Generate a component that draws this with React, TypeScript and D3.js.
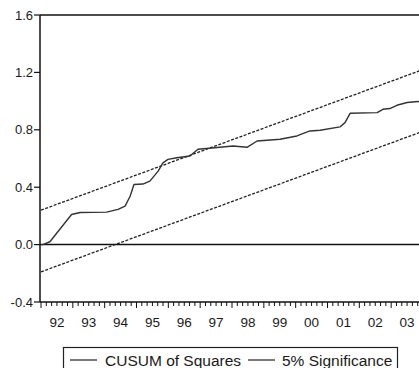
import React from "react";
import * as d3 from "d3";

// CUSUM of squares observations (decimal year, value)
const periods = [
  1992.0, 1992.06, 1992.28, 1992.96, 1993.23, 1994.06, 1994.42, 1994.64, 1994.8, 1994.92,
  1995.2, 1995.42, 1995.68, 1995.83, 1995.99, 1996.27, 1996.68, 1996.93, 1997.62, 1998.03,
  1998.47, 1998.79, 1999.51, 2000.04, 2000.45, 2000.77, 2001.39, 2001.55, 2001.71, 2002.56,
  2002.74, 2002.96, 2003.18, 2003.5, 2003.75, 2004.0,
];
const cusum = [
  0.0, 0.0, 0.02, 0.21, 0.224, 0.226, 0.245, 0.268, 0.337, 0.419,
  0.422, 0.442, 0.512, 0.57, 0.594, 0.605, 0.617, 0.664, 0.678, 0.687,
  0.678, 0.722, 0.734, 0.757, 0.792, 0.797, 0.82, 0.85, 0.915, 0.92,
  0.943, 0.948, 0.971, 0.99, 0.995, 1.0,
];
// 5% significance bounds (start and end of sample)
const boundPeriods = [1992.0, 2004.0];
const upperBound = [0.24, 1.22];
const lowerBound = [-0.19, 0.79];

const yTicks = [-0.4, 0.0, 0.4, 0.8, 1.2, 1.6];
const yearLabels = ["92", "93", "94", "95", "96", "97", "98", "99", "00", "01", "02", "03"];
const legendLabels = ["CUSUM of Squares", "5% Significance"];

export default function App() {
  const W = 419, H = 368;
  const left = 40, top = 15, bottom = 302;
  const x = d3.scaleLinear().domain([1992, 2004]).range([41, 423]);
  const y = d3.scaleLinear().domain([-0.4, 1.6]).range([bottom, top]);
  const font = "Liberation Sans, Arial, sans-serif";

  const line = d3
    .line<number>()
    .x((_, i) => x(periods[i]))
    .y((d) => y(d));
  const bLine = d3
    .line<number>()
    .x((_, i) => x(boundPeriods[i]))
    .y((d) => y(d));

  const minorTicks: number[] = [];
  for (let yr = 1992; yr < 2004; yr++) {
    for (let k = 1; k < 6; k++) minorTicks.push(yr + k / 6);
  }
  const majorTicks = d3.range(1992, 2005);

  return (
    <div style={{ position: "absolute", left: 0, top: 0 }}>
      <svg width={W} height={H} style={{ display: "block", background: "#fff" }}>
        {/* frame */}
        <line x1={left} x2={W} y1={top} y2={top} stroke="#111" strokeWidth={1.5} />
        <line x1={left} x2={left} y1={top} y2={bottom} stroke="#111" strokeWidth={1.5} />
        <line x1={left} x2={W} y1={bottom} y2={bottom} stroke="#111" strokeWidth={1.5} />
        {/* zero line */}
        <line x1={left} x2={W} y1={y(0)} y2={y(0)} stroke="#111" strokeWidth={1.5} />
        {/* y ticks */}
        {yTicks.map((t) => (
          <g key={t}>
            <line x1={left - 6} x2={left} y1={y(t)} y2={y(t)} stroke="#111" strokeWidth={1.2} />
            <text
              x={left - 7}
              y={y(t)}
              dy="0.36em"
              textAnchor="end"
              fontFamily={font}
              fontSize={13}
              fill="#1a1a1a"
            >
              {t.toFixed(1)}
            </text>
          </g>
        ))}
        {/* x ticks */}
        {minorTicks.map((t, i) => (
          <line key={"m" + i} x1={x(t)} x2={x(t)} y1={bottom} y2={bottom + 4} stroke="#111" strokeWidth={1} />
        ))}
        {majorTicks.map((t) => (
          <line key={"M" + t} x1={x(t)} x2={x(t)} y1={bottom} y2={bottom + 6} stroke="#111" strokeWidth={1} />
        ))}
        {yearLabels.map((lab, i) => (
          <text
            key={lab}
            x={x(1992 + i + 0.5)}
            y={322}
            dy="0.36em"
            textAnchor="middle"
            fontFamily={font}
            fontSize={13.5}
            fill="#1a1a1a"
          >
            {lab}
          </text>
        ))}
        {/* bounds */}
        <path d={bLine(upperBound) || ""} fill="none" stroke="#222" strokeWidth={1.3} strokeDasharray="3,1.5" />
        <path d={bLine(lowerBound) || ""} fill="none" stroke="#222" strokeWidth={1.3} strokeDasharray="3,1.5" />
        {/* cusum */}
        <path d={line(cusum) || ""} fill="none" stroke="#333" strokeWidth={1.4} strokeLinejoin="round" />
        {/* legend */}
        <rect x={63.5} y={347.5} width={334} height={30} fill="#fff" stroke="#222" strokeWidth={1.2} />
        <line x1={70} x2={97} y1={360} y2={360} stroke="#222" strokeWidth={1.2} />
        <text x={105} y={360} dy="0.36em" fontFamily={font} fontSize={15.5} fill="#1a1a1a">
          {legendLabels[0]}
        </text>
        <line x1={248} x2={275} y1={360} y2={360} stroke="#222" strokeWidth={1.2} />
        <text x={282} y={360} dy="0.36em" fontFamily={font} fontSize={15.5} fill="#1a1a1a">
          {legendLabels[1]}
        </text>
      </svg>
    </div>
  );
}
